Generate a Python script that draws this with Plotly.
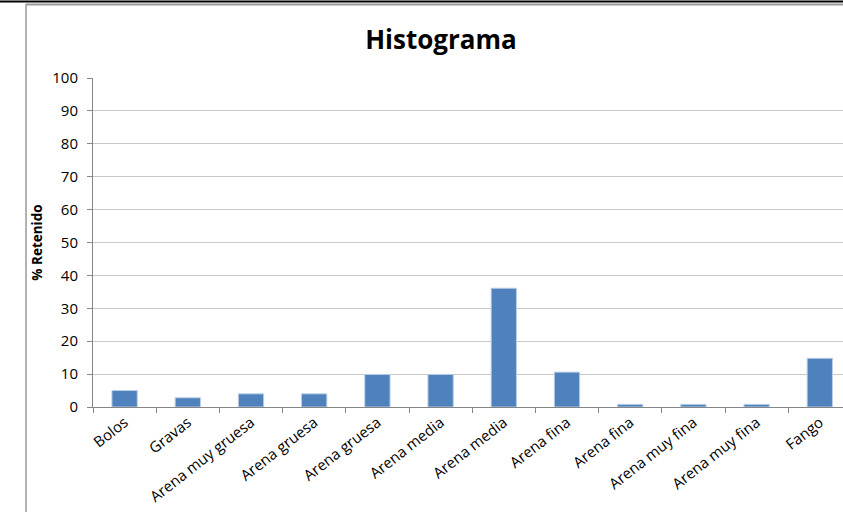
import plotly.graph_objects as go

categories = ["Bolos", "Gravas", "Arena muy gruesa", "Arena gruesa", "Arena gruesa",
              "Arena media", "Arena media", "Arena fina", "Arena fina",
              "Arena muy fina", "Arena muy fina", "Fango"]
retenido = [5, 2.8, 4.0, 4.0, 9.9, 9.9, 36.1, 10.6, 0.8, 0.8, 0.8, 14.8]
y_ticks = [0, 10, 20, 30, 40, 50, 60, 70, 80, 90, 100]

W, H = 843, 512
L, R, T, B = 93, 843, 78, 407  # plot area in px
cat_w = 63.2
pos = list(range(len(categories)))

fig = go.Figure()
fig.add_trace(go.Bar(
    x=pos, y=retenido, width=0.4,
    marker=dict(color="#4F81BD", line=dict(color="#B9CDE5", width=1)),
    hoverinfo="x+y",
))

x_hi = -0.5 + (R - L) / cat_w

def px2x(px):
    return (px - L) / (R - L)

def py2y(py):
    return (B - py) / (B - T)

fig.update_layout(
    width=W, height=H,
    margin=dict(l=L, r=W - R, t=T, b=H - B, pad=0),
    paper_bgcolor="white", plot_bgcolor="white",
    showlegend=False,
    title=dict(text="<b>Histograma</b>", x=(441) / W, xanchor="center",
               y=1 - 40 / H, yanchor="middle",
               font=dict(family="Open Sans", size=26, color="black")),
    bargap=0.6,
    xaxis=dict(
        range=[-0.5, x_hi], tickmode="array", tickvals=pos, ticktext=categories,
        tickangle=-38, ticks="", showgrid=False, zeroline=False, automargin=False,
        showline=True, linecolor="#868686", linewidth=1,
        tickfont=dict(family="Open Sans", size=15, color="black"),
        minor=dict(tickmode="array", tickvals=[i - 0.5 for i in range(len(categories) + 1)],
                   ticks="outside", ticklen=5, tickcolor="#868686", showgrid=False),
        fixedrange=True,
    ),
    yaxis=dict(
        range=[0, 100], tickmode="array", tickvals=y_ticks, automargin=False,
        ticks="outside", ticklen=5, tickcolor="#868686",
        ticklabelstandoff=6,
        showgrid=True, gridcolor="#C8C8C8", gridwidth=1, zeroline=False,
        showline=True, linecolor="#868686", linewidth=1,
        tickfont=dict(family="Open Sans", size=15, color="black"),
        title=dict(text="<b>% Retenido</b>", standoff=6,
                   font=dict(family="Open Sans", size=13.5, color="black")),
        fixedrange=True,
    ),
    shapes=[
        dict(type="line", xref="paper", yref="paper",
             x0=px2x(0), x1=px2x(843), y0=py2y(1.5), y1=py2y(1.5),
             line=dict(color="black", width=2)),
        dict(type="line", xref="paper", yref="paper",
             x0=px2x(26), x1=px2x(843), y0=py2y(4.5), y1=py2y(4.5),
             line=dict(color="#9A9A9A", width=2)),
        dict(type="line", xref="paper", yref="paper",
             x0=px2x(26), x1=px2x(26), y0=py2y(4), y1=py2y(512),
             line=dict(color="#9A9A9A", width=1.5)),
    ],
)

fig.write_html("out.html", config={"displayModeBar": False, "staticPlot": True},
               post_script="document.body.style.margin='0';document.body.style.overflow='hidden';")
